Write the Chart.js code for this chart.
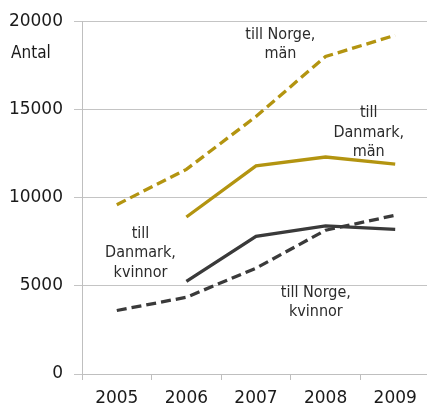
<!DOCTYPE html>
<html>
<head>
<meta charset="utf-8">
<script src="https://cdn.jsdelivr.net/npm/chart.js@4/dist/chart.umd.min.js"></script>
<style>
  html, body { margin: 0; padding: 0; background: #fff; overflow: hidden; }
  #wrap { width: 427px; height: 408px; overflow: hidden; }
</style>
</head>
<body>
<div id="wrap"><canvas id="c" width="430" height="408"></canvas></div>
<script>
const years = ['2005', '2006', '2007', '2008', '2009'];
const norgeMan = [9600, 11600, 14600, 18000, 19200];
const danmarkMan = [null, 8900, 11800, 12300, 11900];
const danmarkKvinnor = [null, 5250, 7800, 8400, 8200];
const norgeKvinnor = [3600, 4350, 6000, 8150, 9000];
const yTicks = [0, 5000, 10000, 15000, 20000];

const GOLD = '#B39410';
const DARK = '#3a3a3a';
const FONT = "'DejaVu Sans', sans-serif";

// Series captions: [lines, category position, value position]
const captions = [
  { lines: ['till Norge,', 'män'], x: 2.35, y: 19250 },
  { lines: ['till', 'Danmark,', 'män'], x: 3.62, y: 14800 },
  { lines: ['till', 'Danmark,', 'kvinnor'], x: 0.34, y: 7950 },
  { lines: ['till Norge,', 'kvinnor'], x: 2.86, y: 4620 }
];

const captionPlugin = {
  id: 'captions',
  afterDatasetsDraw(chart) {
    const { ctx, scales } = chart;
    ctx.save();
    ctx.fillStyle = '#2b2b2b';
    ctx.textAlign = 'center';
    ctx.textBaseline = 'middle';
    ctx.font = 'condensed 16px ' + FONT;
    captions.forEach(c => {
      const px = scales.x.getPixelForValue(c.x);
      const py = scales.y.getPixelForValue(c.y);
      c.lines.forEach((t, i) => ctx.fillText(t, px, py + i * 19.5));
    });
    ctx.font = 'condensed 17px ' + FONT;
    ctx.textAlign = 'left';
    ctx.fillStyle = '#1a1a1a';
    ctx.fillText('Antal', 11, scales.y.getPixelForValue(20000) + 32);
    ctx.restore();
  }
};

const line = (data, color, dashed) => ({
  data,
  borderColor: color,
  borderWidth: 3.3,
  borderDash: dashed ? [10, 5] : [],
  pointRadius: 0,
  tension: 0,
  fill: false,
  spanGaps: false
});

const tickFont = { family: FONT, size: 17, style: 'condensed' };

new Chart(document.getElementById('c'), {
  type: 'line',
  data: {
    labels: years,
    datasets: [
      line(norgeMan, GOLD, true),
      line(danmarkMan, GOLD, false),
      line(danmarkKvinnor, DARK, false),
      line(norgeKvinnor, DARK, true)
    ]
  },
  options: {
    responsive: false,
    animation: false,
    layout: { padding: { top: 20, right: 0, left: 0, bottom: 0 } },
    plugins: { legend: { display: false }, tooltip: { enabled: false } },
    scales: {
      x: {
        offset: true,
        grid: { display: true, drawOnChartArea: false, offset: true, color: '#BFBFBF', tickLength: 6 },
        border: { color: '#BFBFBF', width: 1 },
        ticks: { color: '#1a1a1a', font: tickFont, padding: 8, maxRotation: 0 },
        afterFit(s) { s.height = 34; }
      },
      y: {
        min: 0, max: 20000,
        afterBuildTicks(s) { s.ticks = yTicks.map(v => ({ value: v })); },
        grid: { color: '#C4C4C4', tickLength: 8, lineWidth: 1 },
        border: { color: '#BFBFBF', width: 1 },
        ticks: { color: '#1a1a1a', font: tickFont, padding: 11, callback: v => String(v) },
        afterFit(s) { s.width = 82; }
      }
    }
  },
  plugins: [captionPlugin]
});
</script>
</body>
</html>
